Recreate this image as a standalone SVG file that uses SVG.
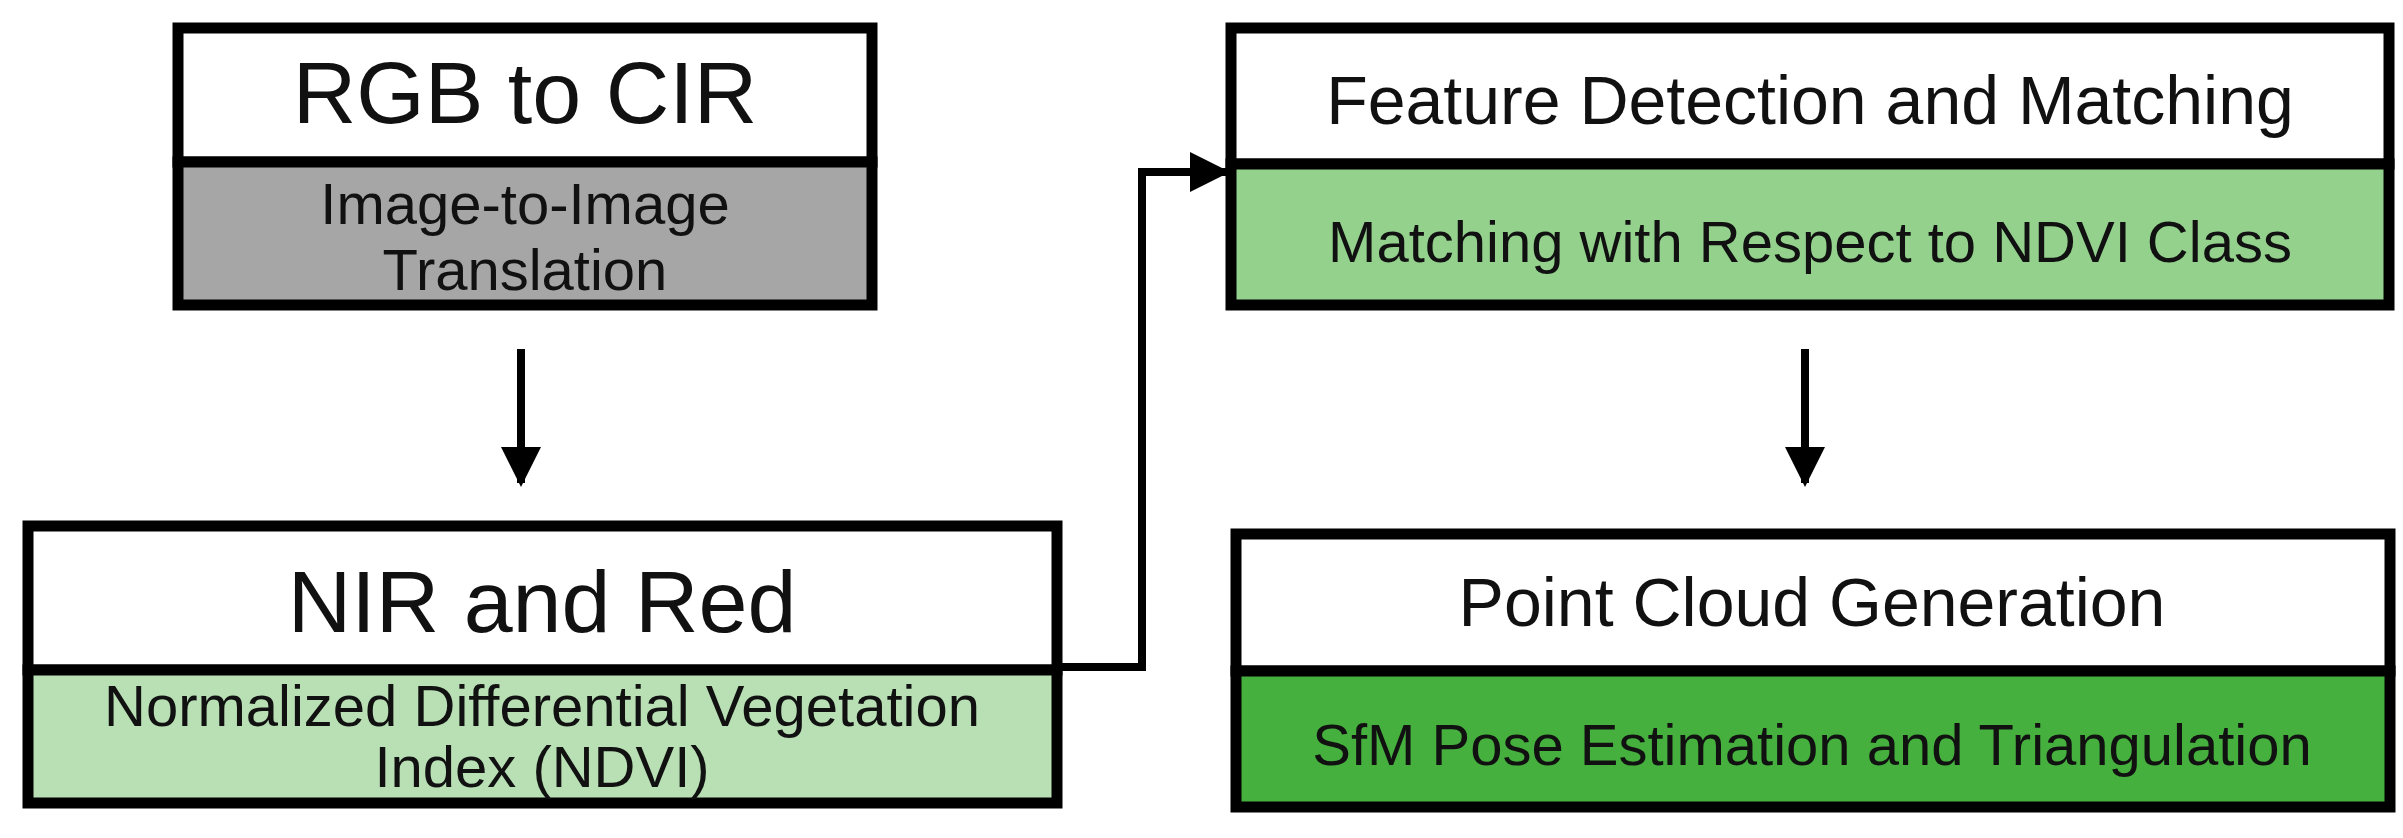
<svg xmlns="http://www.w3.org/2000/svg" width="2403" height="838" viewBox="0 0 2403 838">
<style>
.b{stroke:#000;stroke-width:11;}
.t{font-family:"Liberation Sans",Arial,sans-serif;text-anchor:middle;fill:#111;}
.c{fill:none;stroke:#000;stroke-width:8;}
</style>
<defs>
<marker id="a2" viewBox="0 0 10 10" refX="9" refY="5" markerWidth="40" markerHeight="40" markerUnits="userSpaceOnUse" orient="auto"><path d="M0,0 L10,5 L0,10 Z" fill="#000"/></marker></defs>
<rect width="2403" height="838" fill="#fff"/>
<g id="rgb">
<rect class="b" x="178" y="28" width="694" height="134" fill="#fff"/>
<rect class="b" x="178" y="162" width="694" height="143" fill="#a6a6a6"/>
<text class="t" x="525" y="123" font-size="88">RGB to CIR</text>
<text class="t" x="525" y="224" font-size="58">Image-to-Image</text>
<text class="t" x="525" y="290" font-size="58">Translation</text>
</g>
<g id="nir">
<rect class="b" x="28" y="526" width="1029" height="144" fill="#fff"/>
<rect class="b" x="28" y="670" width="1029" height="133" fill="#b8e0b4"/>
<text class="t" x="542" y="632" font-size="88">NIR and Red</text>
<text class="t" x="542" y="726" font-size="58">Normalized Differential Vegetation</text>
<text class="t" x="542" y="787" font-size="58">Index (NDVI)</text>
</g>
<g id="feature">
<rect class="b" x="1231" y="28" width="1158" height="136" fill="#fff"/>
<rect class="b" x="1231" y="164" width="1158" height="141" fill="#93d18d"/>
<text class="t" x="1810" y="124" font-size="68">Feature Detection and Matching</text>
<text class="t" x="1810" y="262" font-size="58">Matching with Respect to NDVI Class</text>
</g>
<g id="pointcloud">
<rect class="b" x="1236" y="534" width="1154" height="137" fill="#fff"/>
<rect class="b" x="1236" y="671" width="1154" height="136" fill="#46b03f"/>
<text class="t" x="1812" y="626" font-size="68">Point Cloud Generation</text>
<text class="t" x="1812" y="765" font-size="58">SfM Pose Estimation and Triangulation</text>
</g>
<g id="connectors">
<line class="c" x1="521" y1="349" x2="521" y2="483" marker-end="url(#a2)"/>
<line class="c" x1="1805" y1="349" x2="1805" y2="483" marker-end="url(#a2)"/>
<polyline class="c" points="1062,667 1142,667 1142,172 1226,172" marker-end="url(#a2)"/>
</g>
</svg>
